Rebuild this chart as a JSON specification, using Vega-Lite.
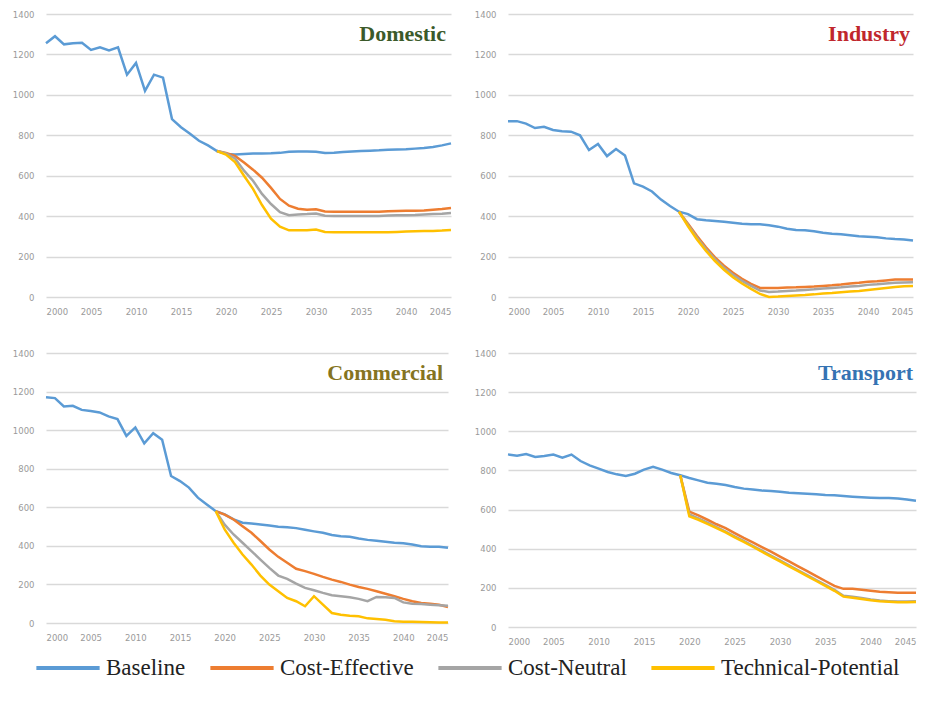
{
  "$schema": "https://vega.github.io/schema/vega-lite/v6.json",
  "background": "white",
  "padding": {"left": 12, "top": 10, "right": 5, "bottom": 5},
  "datasets": {
    "energy": [
      {"sector":"Domestic","year":2000,"Baseline":1255},
      {"sector":"Domestic","year":2001,"Baseline":1290},
      {"sector":"Domestic","year":2002,"Baseline":1250},
      {"sector":"Domestic","year":2003,"Baseline":1255},
      {"sector":"Domestic","year":2004,"Baseline":1258},
      {"sector":"Domestic","year":2005,"Baseline":1222},
      {"sector":"Domestic","year":2006,"Baseline":1235},
      {"sector":"Domestic","year":2007,"Baseline":1220},
      {"sector":"Domestic","year":2008,"Baseline":1235},
      {"sector":"Domestic","year":2009,"Baseline":1100},
      {"sector":"Domestic","year":2010,"Baseline":1158},
      {"sector":"Domestic","year":2011,"Baseline":1020},
      {"sector":"Domestic","year":2012,"Baseline":1100},
      {"sector":"Domestic","year":2013,"Baseline":1085},
      {"sector":"Domestic","year":2014,"Baseline":880},
      {"sector":"Domestic","year":2015,"Baseline":840},
      {"sector":"Domestic","year":2016,"Baseline":808},
      {"sector":"Domestic","year":2017,"Baseline":773},
      {"sector":"Domestic","year":2018,"Baseline":750},
      {"sector":"Domestic","year":2019,"Baseline":722,"Cost-Effective":722,"Cost-Neutral":722,"Technical-Potential":722},
      {"sector":"Domestic","year":2020,"Baseline":708,"Cost-Effective":712,"Cost-Neutral":710,"Technical-Potential":705},
      {"sector":"Domestic","year":2021,"Baseline":705,"Cost-Effective":698,"Cost-Neutral":685,"Technical-Potential":668},
      {"sector":"Domestic","year":2022,"Baseline":708,"Cost-Effective":665,"Cost-Neutral":625,"Technical-Potential":600},
      {"sector":"Domestic","year":2023,"Baseline":710,"Cost-Effective":630,"Cost-Neutral":575,"Technical-Potential":535},
      {"sector":"Domestic","year":2024,"Baseline":710,"Cost-Effective":590,"Cost-Neutral":510,"Technical-Potential":455},
      {"sector":"Domestic","year":2025,"Baseline":711,"Cost-Effective":540,"Cost-Neutral":460,"Technical-Potential":388},
      {"sector":"Domestic","year":2026,"Baseline":713,"Cost-Effective":485,"Cost-Neutral":420,"Technical-Potential":348},
      {"sector":"Domestic","year":2027,"Baseline":718,"Cost-Effective":452,"Cost-Neutral":405,"Technical-Potential":330},
      {"sector":"Domestic","year":2028,"Baseline":720,"Cost-Effective":437,"Cost-Neutral":408,"Technical-Potential":330},
      {"sector":"Domestic","year":2029,"Baseline":720,"Cost-Effective":432,"Cost-Neutral":410,"Technical-Potential":330},
      {"sector":"Domestic","year":2030,"Baseline":718,"Cost-Effective":434,"Cost-Neutral":413,"Technical-Potential":334},
      {"sector":"Domestic","year":2031,"Baseline":712,"Cost-Effective":423,"Cost-Neutral":402,"Technical-Potential":322},
      {"sector":"Domestic","year":2032,"Baseline":714,"Cost-Effective":422,"Cost-Neutral":401,"Technical-Potential":320},
      {"sector":"Domestic","year":2033,"Baseline":717,"Cost-Effective":422,"Cost-Neutral":401,"Technical-Potential":320},
      {"sector":"Domestic","year":2034,"Baseline":720,"Cost-Effective":422,"Cost-Neutral":401,"Technical-Potential":320},
      {"sector":"Domestic","year":2035,"Baseline":722,"Cost-Effective":422,"Cost-Neutral":401,"Technical-Potential":320},
      {"sector":"Domestic","year":2036,"Baseline":724,"Cost-Effective":422,"Cost-Neutral":401,"Technical-Potential":320},
      {"sector":"Domestic","year":2037,"Baseline":726,"Cost-Effective":422,"Cost-Neutral":401,"Technical-Potential":320},
      {"sector":"Domestic","year":2038,"Baseline":729,"Cost-Effective":424,"Cost-Neutral":403,"Technical-Potential":320},
      {"sector":"Domestic","year":2039,"Baseline":730,"Cost-Effective":426,"Cost-Neutral":404,"Technical-Potential":322},
      {"sector":"Domestic","year":2040,"Baseline":731,"Cost-Effective":427,"Cost-Neutral":405,"Technical-Potential":324},
      {"sector":"Domestic","year":2041,"Baseline":734,"Cost-Effective":427,"Cost-Neutral":406,"Technical-Potential":325},
      {"sector":"Domestic","year":2042,"Baseline":737,"Cost-Effective":428,"Cost-Neutral":408,"Technical-Potential":326},
      {"sector":"Domestic","year":2043,"Baseline":742,"Cost-Effective":432,"Cost-Neutral":410,"Technical-Potential":327},
      {"sector":"Domestic","year":2044,"Baseline":750,"Cost-Effective":435,"Cost-Neutral":412,"Technical-Potential":329},
      {"sector":"Domestic","year":2045,"Baseline":760,"Cost-Effective":440,"Cost-Neutral":415,"Technical-Potential":332},

      {"sector":"Industry","year":2000,"Baseline":870},
      {"sector":"Industry","year":2001,"Baseline":870},
      {"sector":"Industry","year":2002,"Baseline":858},
      {"sector":"Industry","year":2003,"Baseline":836},
      {"sector":"Industry","year":2004,"Baseline":842},
      {"sector":"Industry","year":2005,"Baseline":826},
      {"sector":"Industry","year":2006,"Baseline":820},
      {"sector":"Industry","year":2007,"Baseline":818},
      {"sector":"Industry","year":2008,"Baseline":800},
      {"sector":"Industry","year":2009,"Baseline":727},
      {"sector":"Industry","year":2010,"Baseline":757},
      {"sector":"Industry","year":2011,"Baseline":697},
      {"sector":"Industry","year":2012,"Baseline":732},
      {"sector":"Industry","year":2013,"Baseline":700},
      {"sector":"Industry","year":2014,"Baseline":562},
      {"sector":"Industry","year":2015,"Baseline":546},
      {"sector":"Industry","year":2016,"Baseline":522},
      {"sector":"Industry","year":2017,"Baseline":482},
      {"sector":"Industry","year":2018,"Baseline":450},
      {"sector":"Industry","year":2019,"Baseline":422,"Cost-Effective":422,"Cost-Neutral":422,"Technical-Potential":422},
      {"sector":"Industry","year":2020,"Baseline":410,"Cost-Effective":362,"Cost-Neutral":356,"Technical-Potential":350},
      {"sector":"Industry","year":2021,"Baseline":385,"Cost-Effective":302,"Cost-Neutral":293,"Technical-Potential":285},
      {"sector":"Industry","year":2022,"Baseline":380,"Cost-Effective":246,"Cost-Neutral":237,"Technical-Potential":228},
      {"sector":"Industry","year":2023,"Baseline":376,"Cost-Effective":196,"Cost-Neutral":187,"Technical-Potential":178},
      {"sector":"Industry","year":2024,"Baseline":372,"Cost-Effective":155,"Cost-Neutral":145,"Technical-Potential":135},
      {"sector":"Industry","year":2025,"Baseline":367,"Cost-Effective":120,"Cost-Neutral":110,"Technical-Potential":98},
      {"sector":"Industry","year":2026,"Baseline":362,"Cost-Effective":90,"Cost-Neutral":80,"Technical-Potential":67},
      {"sector":"Industry","year":2027,"Baseline":360,"Cost-Effective":65,"Cost-Neutral":55,"Technical-Potential":40},
      {"sector":"Industry","year":2028,"Baseline":360,"Cost-Effective":45,"Cost-Neutral":32,"Technical-Potential":15},
      {"sector":"Industry","year":2029,"Baseline":355,"Cost-Effective":44,"Cost-Neutral":25,"Technical-Potential":0},
      {"sector":"Industry","year":2030,"Baseline":348,"Cost-Effective":45,"Cost-Neutral":27,"Technical-Potential":2},
      {"sector":"Industry","year":2031,"Baseline":338,"Cost-Effective":47,"Cost-Neutral":30,"Technical-Potential":5},
      {"sector":"Industry","year":2032,"Baseline":331,"Cost-Effective":48,"Cost-Neutral":32,"Technical-Potential":8},
      {"sector":"Industry","year":2033,"Baseline":330,"Cost-Effective":50,"Cost-Neutral":35,"Technical-Potential":10},
      {"sector":"Industry","year":2034,"Baseline":325,"Cost-Effective":52,"Cost-Neutral":38,"Technical-Potential":13},
      {"sector":"Industry","year":2035,"Baseline":318,"Cost-Effective":55,"Cost-Neutral":42,"Technical-Potential":17},
      {"sector":"Industry","year":2036,"Baseline":313,"Cost-Effective":58,"Cost-Neutral":45,"Technical-Potential":20},
      {"sector":"Industry","year":2037,"Baseline":310,"Cost-Effective":62,"Cost-Neutral":48,"Technical-Potential":24},
      {"sector":"Industry","year":2038,"Baseline":305,"Cost-Effective":67,"Cost-Neutral":52,"Technical-Potential":27},
      {"sector":"Industry","year":2039,"Baseline":300,"Cost-Effective":70,"Cost-Neutral":55,"Technical-Potential":30},
      {"sector":"Industry","year":2040,"Baseline":298,"Cost-Effective":75,"Cost-Neutral":60,"Technical-Potential":35},
      {"sector":"Industry","year":2041,"Baseline":295,"Cost-Effective":78,"Cost-Neutral":63,"Technical-Potential":40},
      {"sector":"Industry","year":2042,"Baseline":290,"Cost-Effective":82,"Cost-Neutral":67,"Technical-Potential":45},
      {"sector":"Industry","year":2043,"Baseline":287,"Cost-Effective":86,"Cost-Neutral":70,"Technical-Potential":50},
      {"sector":"Industry","year":2044,"Baseline":285,"Cost-Effective":86,"Cost-Neutral":72,"Technical-Potential":53},
      {"sector":"Industry","year":2045,"Baseline":280,"Cost-Effective":86,"Cost-Neutral":73,"Technical-Potential":55},

      {"sector":"Commercial","year":2000,"Baseline":1170},
      {"sector":"Commercial","year":2001,"Baseline":1166},
      {"sector":"Commercial","year":2002,"Baseline":1123},
      {"sector":"Commercial","year":2003,"Baseline":1126},
      {"sector":"Commercial","year":2004,"Baseline":1105},
      {"sector":"Commercial","year":2005,"Baseline":1099},
      {"sector":"Commercial","year":2006,"Baseline":1092},
      {"sector":"Commercial","year":2007,"Baseline":1071},
      {"sector":"Commercial","year":2008,"Baseline":1057},
      {"sector":"Commercial","year":2009,"Baseline":970},
      {"sector":"Commercial","year":2010,"Baseline":1014},
      {"sector":"Commercial","year":2011,"Baseline":932},
      {"sector":"Commercial","year":2012,"Baseline":984},
      {"sector":"Commercial","year":2013,"Baseline":950},
      {"sector":"Commercial","year":2014,"Baseline":762},
      {"sector":"Commercial","year":2015,"Baseline":736},
      {"sector":"Commercial","year":2016,"Baseline":702},
      {"sector":"Commercial","year":2017,"Baseline":650},
      {"sector":"Commercial","year":2018,"Baseline":615},
      {"sector":"Commercial","year":2019,"Baseline":580,"Cost-Effective":580,"Cost-Neutral":580,"Technical-Potential":580},
      {"sector":"Commercial","year":2020,"Baseline":563,"Cost-Effective":562,"Cost-Neutral":510,"Technical-Potential":485},
      {"sector":"Commercial","year":2021,"Baseline":537,"Cost-Effective":537,"Cost-Neutral":459,"Technical-Potential":416},
      {"sector":"Commercial","year":2022,"Baseline":520,"Cost-Effective":502,"Cost-Neutral":416,"Technical-Potential":355},
      {"sector":"Commercial","year":2023,"Baseline":516,"Cost-Effective":468,"Cost-Neutral":373,"Technical-Potential":303},
      {"sector":"Commercial","year":2024,"Baseline":511,"Cost-Effective":425,"Cost-Neutral":329,"Technical-Potential":246},
      {"sector":"Commercial","year":2025,"Baseline":506,"Cost-Effective":381,"Cost-Neutral":286,"Technical-Potential":199},
      {"sector":"Commercial","year":2026,"Baseline":499,"Cost-Effective":343,"Cost-Neutral":246,"Technical-Potential":165},
      {"sector":"Commercial","year":2027,"Baseline":497,"Cost-Effective":312,"Cost-Neutral":229,"Technical-Potential":130},
      {"sector":"Commercial","year":2028,"Baseline":492,"Cost-Effective":281,"Cost-Neutral":204,"Technical-Potential":113},
      {"sector":"Commercial","year":2029,"Baseline":483,"Cost-Effective":269,"Cost-Neutral":182,"Technical-Potential":87},
      {"sector":"Commercial","year":2030,"Baseline":475,"Cost-Effective":255,"Cost-Neutral":170,"Technical-Potential":139},
      {"sector":"Commercial","year":2031,"Baseline":468,"Cost-Effective":239,"Cost-Neutral":156,"Technical-Potential":95},
      {"sector":"Commercial","year":2032,"Baseline":456,"Cost-Effective":225,"Cost-Neutral":144,"Technical-Potential":52},
      {"sector":"Commercial","year":2033,"Baseline":450,"Cost-Effective":213,"Cost-Neutral":139,"Technical-Potential":43},
      {"sector":"Commercial","year":2034,"Baseline":447,"Cost-Effective":199,"Cost-Neutral":133,"Technical-Potential":38},
      {"sector":"Commercial","year":2035,"Baseline":438,"Cost-Effective":187,"Cost-Neutral":125,"Technical-Potential":35},
      {"sector":"Commercial","year":2036,"Baseline":431,"Cost-Effective":177,"Cost-Neutral":113,"Technical-Potential":24},
      {"sector":"Commercial","year":2037,"Baseline":426,"Cost-Effective":165,"Cost-Neutral":135,"Technical-Potential":21},
      {"sector":"Commercial","year":2038,"Baseline":421,"Cost-Effective":152,"Cost-Neutral":133,"Technical-Potential":17},
      {"sector":"Commercial","year":2039,"Baseline":416,"Cost-Effective":139,"Cost-Neutral":130,"Technical-Potential":9},
      {"sector":"Commercial","year":2040,"Baseline":414,"Cost-Effective":125,"Cost-Neutral":107,"Technical-Potential":7},
      {"sector":"Commercial","year":2041,"Baseline":407,"Cost-Effective":113,"Cost-Neutral":100,"Technical-Potential":6},
      {"sector":"Commercial","year":2042,"Baseline":398,"Cost-Effective":104,"Cost-Neutral":99,"Technical-Potential":5},
      {"sector":"Commercial","year":2043,"Baseline":395,"Cost-Effective":100,"Cost-Neutral":95,"Technical-Potential":4},
      {"sector":"Commercial","year":2044,"Baseline":395,"Cost-Effective":95,"Cost-Neutral":92,"Technical-Potential":3},
      {"sector":"Commercial","year":2045,"Baseline":390,"Cost-Effective":83,"Cost-Neutral":90,"Technical-Potential":2},

      {"sector":"Transport","year":2000,"Baseline":882},
      {"sector":"Transport","year":2001,"Baseline":875},
      {"sector":"Transport","year":2002,"Baseline":884},
      {"sector":"Transport","year":2003,"Baseline":869},
      {"sector":"Transport","year":2004,"Baseline":874},
      {"sector":"Transport","year":2005,"Baseline":881},
      {"sector":"Transport","year":2006,"Baseline":865},
      {"sector":"Transport","year":2007,"Baseline":881},
      {"sector":"Transport","year":2008,"Baseline":848},
      {"sector":"Transport","year":2009,"Baseline":826},
      {"sector":"Transport","year":2010,"Baseline":809},
      {"sector":"Transport","year":2011,"Baseline":792},
      {"sector":"Transport","year":2012,"Baseline":780},
      {"sector":"Transport","year":2013,"Baseline":772},
      {"sector":"Transport","year":2014,"Baseline":783},
      {"sector":"Transport","year":2015,"Baseline":804},
      {"sector":"Transport","year":2016,"Baseline":818},
      {"sector":"Transport","year":2017,"Baseline":804},
      {"sector":"Transport","year":2018,"Baseline":787},
      {"sector":"Transport","year":2019,"Baseline":775,"Cost-Effective":775,"Cost-Neutral":775,"Technical-Potential":775},
      {"sector":"Transport","year":2020,"Baseline":761,"Cost-Effective":590,"Cost-Neutral":575,"Technical-Potential":565},
      {"sector":"Transport","year":2021,"Baseline":749,"Cost-Effective":570,"Cost-Neutral":555,"Technical-Potential":548},
      {"sector":"Transport","year":2022,"Baseline":737,"Cost-Effective":548,"Cost-Neutral":533,"Technical-Potential":527},
      {"sector":"Transport","year":2023,"Baseline":732,"Cost-Effective":525,"Cost-Neutral":510,"Technical-Potential":505},
      {"sector":"Transport","year":2024,"Baseline":726,"Cost-Effective":505,"Cost-Neutral":488,"Technical-Potential":483},
      {"sector":"Transport","year":2025,"Baseline":715,"Cost-Effective":480,"Cost-Neutral":463,"Technical-Potential":458},
      {"sector":"Transport","year":2026,"Baseline":707,"Cost-Effective":455,"Cost-Neutral":440,"Technical-Potential":435},
      {"sector":"Transport","year":2027,"Baseline":702,"Cost-Effective":432,"Cost-Neutral":415,"Technical-Potential":410},
      {"sector":"Transport","year":2028,"Baseline":697,"Cost-Effective":408,"Cost-Neutral":390,"Technical-Potential":385},
      {"sector":"Transport","year":2029,"Baseline":695,"Cost-Effective":385,"Cost-Neutral":365,"Technical-Potential":360},
      {"sector":"Transport","year":2030,"Baseline":691,"Cost-Effective":360,"Cost-Neutral":340,"Technical-Potential":335},
      {"sector":"Transport","year":2031,"Baseline":686,"Cost-Effective":335,"Cost-Neutral":315,"Technical-Potential":310},
      {"sector":"Transport","year":2032,"Baseline":683,"Cost-Effective":310,"Cost-Neutral":290,"Technical-Potential":285},
      {"sector":"Transport","year":2033,"Baseline":681,"Cost-Effective":285,"Cost-Neutral":265,"Technical-Potential":260},
      {"sector":"Transport","year":2034,"Baseline":678,"Cost-Effective":260,"Cost-Neutral":240,"Technical-Potential":235},
      {"sector":"Transport","year":2035,"Baseline":674,"Cost-Effective":235,"Cost-Neutral":215,"Technical-Potential":210},
      {"sector":"Transport","year":2036,"Baseline":673,"Cost-Effective":210,"Cost-Neutral":190,"Technical-Potential":185},
      {"sector":"Transport","year":2037,"Baseline":669,"Cost-Effective":195,"Cost-Neutral":160,"Technical-Potential":155},
      {"sector":"Transport","year":2038,"Baseline":666,"Cost-Effective":195,"Cost-Neutral":155,"Technical-Potential":150},
      {"sector":"Transport","year":2039,"Baseline":663,"Cost-Effective":190,"Cost-Neutral":148,"Technical-Potential":143},
      {"sector":"Transport","year":2040,"Baseline":661,"Cost-Effective":185,"Cost-Neutral":140,"Technical-Potential":137},
      {"sector":"Transport","year":2041,"Baseline":659,"Cost-Effective":180,"Cost-Neutral":135,"Technical-Potential":132},
      {"sector":"Transport","year":2042,"Baseline":659,"Cost-Effective":178,"Cost-Neutral":132,"Technical-Potential":129},
      {"sector":"Transport","year":2043,"Baseline":656,"Cost-Effective":175,"Cost-Neutral":130,"Technical-Potential":127},
      {"sector":"Transport","year":2044,"Baseline":651,"Cost-Effective":175,"Cost-Neutral":130,"Technical-Potential":127},
      {"sector":"Transport","year":2045,"Baseline":645,"Cost-Effective":175,"Cost-Neutral":132,"Technical-Potential":128}
    ]
  },
  "data": {"name": "energy"},
  "transform": [
    {"fold": ["Baseline", "Cost-Effective", "Cost-Neutral", "Technical-Potential"], "as": ["scenario", "value"]},
    {"filter": "isValid(datum.value)"}
  ],
  "columns": 2,
  "spacing": {"row": 33, "column": 18},
  "concat": [
    {
      "width": 405, "height": 283,
      "title": {"text": "Domestic", "color": "#3b5a2a", "dx": -10},
      "transform": [{"filter": "datum.sector === 'Domestic'"}],
      "mark": {"type": "line", "strokeWidth": 2.5},
      "encoding": {
        "x": {"field": "year", "type": "quantitative", "title": null, "scale": {"domain": [2000, 2045], "nice": false}, "axis": {"values": [2000,2005,2010,2015,2020,2025,2030,2035,2040,2045], "format": "d"}},
        "y": {"field": "value", "type": "quantitative", "title": null, "scale": {"domain": [0, 1400]}, "axis": {"values": [0,200,400,600,800,1000,1200,1400], "format": "d"}},
        "color": {"field": "scenario", "type": "nominal", "scale": {"domain": ["Baseline", "Cost-Effective", "Cost-Neutral", "Technical-Potential"], "range": ["#5b9bd5", "#ed7d31", "#a5a5a5", "#ffc000"]}, "legend": {"title": null}}
      }
    },
    {
      "width": 405, "height": 283,
      "title": {"text": "Industry", "color": "#c0272d", "dx": -8},
      "transform": [{"filter": "datum.sector === 'Industry'"}],
      "mark": {"type": "line", "strokeWidth": 2.5},
      "encoding": {
        "x": {"field": "year", "type": "quantitative", "title": null, "scale": {"domain": [2000, 2045], "nice": false}, "axis": {"values": [2000,2005,2010,2015,2020,2025,2030,2035,2040,2045], "format": "d"}},
        "y": {"field": "value", "type": "quantitative", "title": null, "scale": {"domain": [0, 1400]}, "axis": {"values": [0,200,400,600,800,1000,1200,1400], "format": "d"}},
        "color": {"field": "scenario", "type": "nominal", "scale": {"domain": ["Baseline", "Cost-Effective", "Cost-Neutral", "Technical-Potential"], "range": ["#5b9bd5", "#ed7d31", "#a5a5a5", "#ffc000"]}, "legend": {"title": null}}
      }
    },
    {
      "width": 402, "height": 270,
      "title": {"text": "Commercial", "color": "#857421", "dx": -10},
      "transform": [{"filter": "datum.sector === 'Commercial'"}],
      "mark": {"type": "line", "strokeWidth": 2.5},
      "encoding": {
        "x": {"field": "year", "type": "quantitative", "title": null, "scale": {"domain": [2000, 2045], "nice": false}, "axis": {"values": [2000,2005,2010,2015,2020,2025,2030,2035,2040,2045], "format": "d"}},
        "y": {"field": "value", "type": "quantitative", "title": null, "scale": {"domain": [0, 1400]}, "axis": {"values": [0,200,400,600,800,1000,1200,1400], "format": "d"}},
        "color": {"field": "scenario", "type": "nominal", "scale": {"domain": ["Baseline", "Cost-Effective", "Cost-Neutral", "Technical-Potential"], "range": ["#5b9bd5", "#ed7d31", "#a5a5a5", "#ffc000"]}, "legend": {"title": null}}
      }
    },
    {
      "width": 408, "height": 274,
      "title": {"text": "Transport", "color": "#3573b3", "dx": -8},
      "transform": [{"filter": "datum.sector === 'Transport'"}],
      "mark": {"type": "line", "strokeWidth": 2.5},
      "encoding": {
        "x": {"field": "year", "type": "quantitative", "title": null, "scale": {"domain": [2000, 2045], "nice": false}, "axis": {"values": [2000,2005,2010,2015,2020,2025,2030,2035,2040,2045], "format": "d"}},
        "y": {"field": "value", "type": "quantitative", "title": null, "scale": {"domain": [0, 1400]}, "axis": {"values": [0,200,400,600,800,1000,1200,1400], "format": "d"}},
        "color": {"field": "scenario", "type": "nominal", "scale": {"domain": ["Baseline", "Cost-Effective", "Cost-Neutral", "Technical-Potential"], "range": ["#5b9bd5", "#ed7d31", "#a5a5a5", "#ffc000"]}, "legend": {"title": null}}
      }
    }
  ],
  "config": {
    "view": {"stroke": null},
    "title": {"anchor": "end", "offset": -36, "font": "Liberation Serif", "fontSize": 22, "fontWeight": "bold"},
    "axis": {"labelFont": "DejaVu Sans", "labelFontSize": 8.5, "labelColor": "#9a9a9a", "ticks": false, "domain": false, "gridColor": "#d9d9d9", "gridWidth": 1.5},
    "axisX": {"grid": false, "labelPadding": 10},
    "axisY": {"labelPadding": 12},
    "legend": {"orient": "none", "legendX": -12, "legendY": 620, "direction": "horizontal", "symbolType": "stroke", "symbolSize": 4000, "symbolStrokeWidth": 4, "labelFont": "Liberation Serif", "labelFontSize": 23, "labelColor": "#222222", "columnPadding": 16, "labelLimit": 300}
  }
}
